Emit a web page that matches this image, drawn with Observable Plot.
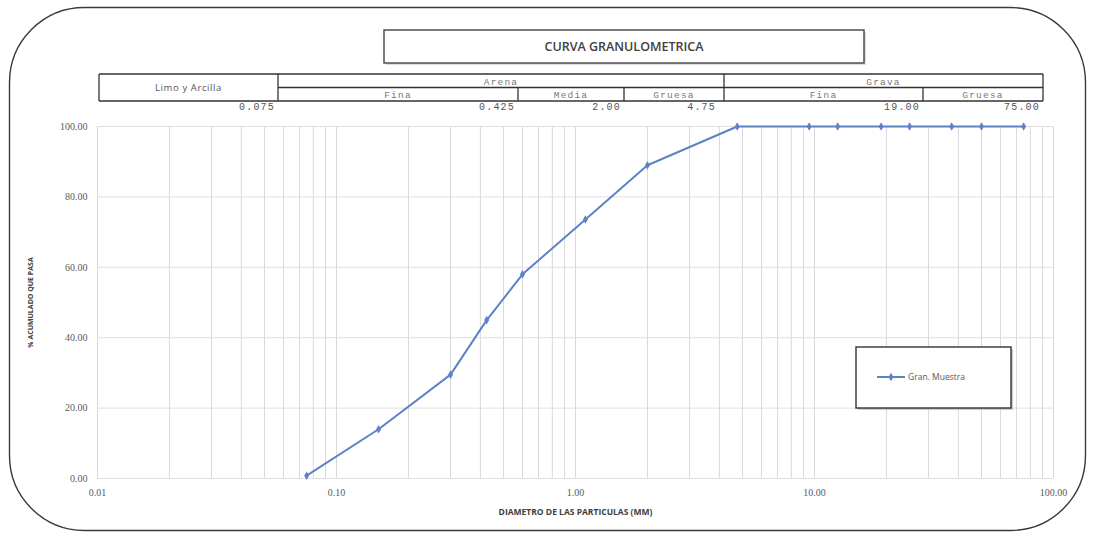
<!DOCTYPE html>
<html><head><meta charset="utf-8">
<script src="https://cdn.jsdelivr.net/npm/d3@7"></script>
<script src="https://cdn.jsdelivr.net/npm/@observablehq/plot@0.6"></script>
<style>
body{margin:0;background:#fff;}
#wrap{position:relative;width:1094px;height:536px;overflow:hidden;background:#fff;}
#chart{position:absolute;left:0;top:0;}
#overlay{position:absolute;left:0;top:0;pointer-events:none;}
</style>
</head><body>
<div id="wrap"><div id="chart"></div><svg id="overlay" width="1094" height="536"></svg></div>
<script>
// ---- data ----
const title = "CURVA GRANULOMETRICA";
const seriesName = "Gran. Muestra";
const sieveMM = [0.075, 0.15, 0.3, 0.425, 0.6, 1.1, 2.0, 4.75, 9.5, 12.5, 19, 25, 37.5, 50, 75];
const passing = [0.8, 14.0, 29.5, 45.0, 58.0, 73.6, 89.0, 100, 100, 100, 100, 100, 100, 100, 100];
const xTicks = [0.01, 0.1, 1, 10, 100];
const yTicks = [0, 20, 40, 60, 80, 100];
const yLabel = "% ACUMULADO QUE PASA";
const xLabel = "DIAMETRO DE LAS PARTICULAS (MM)";
const groupLabels = ["Limo y Arcilla", "Arena", "Grava"];
const subLabels = ["Fina", "Media", "Gruesa", "Fina", "Gruesa"];
const limitLabels = ["0.075", "0.425", "2.00", "4.75", "19.00", "75.00"];

const data = sieveMM.map((d, i) => ({d, p: passing[i]}));
const color = "#5f82c6";
const fmt = d3.format(".2f");
const minor = d3.scaleLog().domain([0.01, 100]).ticks();

const chart = Plot.plot({
  width: 1094, height: 536,
  marginLeft: 97, marginRight: 41, marginTop: 126, marginBottom: 58,
  style: {fontFamily: "'Liberation Serif', serif", fontSize: "10px", color: "#5a5a5a", background: "transparent"},
  x: {type: "log", domain: [0.01, 100]},
  y: {domain: [0, 100]},
  marks: [
    Plot.gridX(minor, {stroke: "#d9d9d9", strokeOpacity: 1}),
    Plot.gridY(yTicks, {stroke: "#e0e0e0", strokeOpacity: 1}),
    Plot.axisX(xTicks, {tickSize: 0, tickPadding: 10, tickFormat: fmt, label: null}),
    Plot.axisY(yTicks, {tickSize: 0, tickPadding: 10, tickFormat: fmt, label: null}),
    Plot.line(data, {x: "d", y: "p", stroke: color, strokeWidth: 2}),
    Plot.dot(data, {x: "d", y: "p", fill: color, r: 2.6, symbol: "diamond"}),
    Plot.text([yLabel], {text: d => d, frameAnchor: "left", textAnchor: "middle", dx: -67, rotate: -90, fontSize: 7, fontWeight: "bold", fill: "#404040", fontFamily: "'Open Sans', sans-serif"}),
    Plot.text([xLabel], {text: d => d, frameAnchor: "bottom", textAnchor: "middle", dy: 36, fontSize: 8.5, fontWeight: "bold", fill: "#404040", fontFamily: "'Open Sans', sans-serif"})
  ]
});
document.getElementById("chart").appendChild(chart);

// ---- overlay: frame, title box, header table, legend ----
const svg = d3.select("#overlay");
svg.append("rect").attr("x", 9.5).attr("y", 7.5).attr("width", 1076).attr("height", 523)
  .attr("rx", 75).attr("ry", 75).attr("fill", "none").attr("stroke", "#3a3a3a").attr("stroke-width", 1.4);

// title box
svg.append("rect").attr("x", 386).attr("y", 32).attr("width", 480).attr("height", 33).attr("fill", "#bbb").attr("opacity", 0.5);
svg.append("rect").attr("x", 384).attr("y", 30).attr("width", 480).attr("height", 33)
  .attr("fill", "#fff").attr("stroke", "#444").attr("stroke-width", 1.4);
svg.append("text").attr("x", 624).attr("y", 51).attr("text-anchor", "middle")
  .attr("font-family", "'Open Sans', sans-serif").attr("font-size", 12.5).attr("font-weight", 600)
  .attr("fill", "#404040").text(title);

// header table
const T = {left: 99, right: 1043, top: 74, mid: 87.5, bot: 101};
const colsTop = [99, 278, 724, 1043];
const colsSub = [278, 518, 624, 724, 923, 1043];
const line = (x1, y1, x2, y2) => svg.append("line").attr("x1", x1).attr("y1", y1).attr("x2", x2).attr("y2", y2)
  .attr("stroke", "#333").attr("stroke-width", 1.3);
line(T.left, T.top, T.right, T.top);
line(T.left, T.bot, T.right, T.bot);
line(colsTop[1], T.mid, T.right, T.mid);
colsTop.forEach(x => line(x, T.top, x, T.bot));
[518, 624, 923].forEach(x => line(x, T.mid, x, T.bot));

const mono = "'Liberation Mono', monospace";
svg.append("text").attr("x", (colsTop[0] + colsTop[1]) / 2).attr("y", 91).attr("text-anchor", "middle")
  .attr("font-family", "'Open Sans', sans-serif").attr("font-size", 9.5).attr("letter-spacing", 0.6)
  .attr("fill", "#555").text(groupLabels[0]);
[1, 2].forEach(i => {
  svg.append("text").attr("x", (colsTop[i] + colsTop[i + 1]) / 2).attr("y", 84.5).attr("text-anchor", "middle")
    .attr("font-family", mono).attr("font-size", 9.5).attr("letter-spacing", 1.2).attr("fill", "#777").text(groupLabels[i]);
});
subLabels.forEach((s, i) => {
  svg.append("text").attr("x", (colsSub[i] + colsSub[i + 1]) / 2).attr("y", 97.5).attr("text-anchor", "middle")
    .attr("font-family", mono).attr("font-size", 9.5).attr("letter-spacing", 1.2).attr("fill", "#777").text(s);
});
const limitRight = [275, 515, 621, 716, 920, 1040];
limitLabels.forEach((s, i) => {
  svg.append("text").attr("x", limitRight[i]).attr("y", 110).attr("text-anchor", "end")
    .attr("font-family", mono).attr("font-size", 10).attr("letter-spacing", 1.2).attr("fill", "#555").text(s);
});

// legend
svg.append("rect").attr("x", 858).attr("y", 349).attr("width", 155).attr("height", 61).attr("fill", "#aaa").attr("opacity", 0.6);
svg.append("rect").attr("x", 856).attr("y", 347).attr("width", 155).attr("height", 61)
  .attr("fill", "#fff").attr("stroke", "#333").attr("stroke-width", 1.4);
svg.append("line").attr("x1", 877).attr("x2", 905).attr("y1", 377).attr("y2", 377).attr("stroke", color).attr("stroke-width", 2);
svg.append("path").attr("d", d3.symbol(d3.symbolDiamond, 22)()).attr("transform", "translate(891,377)").attr("fill", color);
svg.append("text").attr("x", 908).attr("y", 380).attr("font-family", "'Open Sans', sans-serif").attr("font-size", 8.5)
  .attr("fill", "#595959").text(seriesName);
</script>
</body></html>
